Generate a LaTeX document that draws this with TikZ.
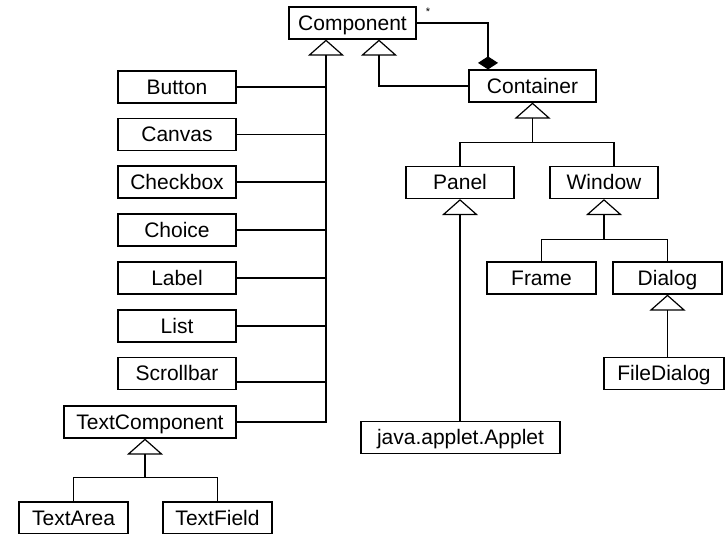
\documentclass[tikz,border=0pt]{standalone}
\usepackage{fontspec}
\setmainfont{Liberation Sans}
\usetikzlibrary{arrows.meta}

\begin{document}
\begin{tikzpicture}[x=1pt, y=-1pt,
    cls/.style={draw, line width=1.2pt, minimum height=32pt, inner sep=0pt,
        text height=15pt, text depth=1pt, font=\fontsize{21}{24}\selectfont},
    link/.style={line width=1.2pt},
    gen/.style={link, -{Triangle[open, length=16pt, width=36pt]}},
    owns/.style={link, -{Diamond[length=13pt, width=20pt]}}]
    \useasboundingbox (0,0) rectangle (725,533);

    % top of the hierarchy
    \node[cls, minimum width=127pt] (comp) at (352.5,23) {Component};
    \node[cls, minimum width=127pt] (cont) at (532.5,86) {Container};
    \node[font=\fontsize{11}{12}\selectfont] (mult) at (428,12) {*};

    % plain components
    \node[cls, minimum width=118pt] (button)   at (177,87)    {Button};
    \node[cls, minimum width=118pt] (canvas)   at (177,134.5) {Canvas};
    \node[cls, minimum width=118pt] (checkbox) at (177,182)   {Checkbox};
    \node[cls, minimum width=118pt] (choice)   at (177,230)   {Choice};
    \node[cls, minimum width=118pt] (label)    at (177,278)   {Label};
    \node[cls, minimum width=118pt] (list)     at (177,326)   {List};
    \node[cls, minimum width=118pt] (scroll)   at (177,373.5) {Scrollbar};
    \node[cls, minimum width=172pt] (textcomp) at (150,422)   {TextComponent};
    \node[cls, minimum width=109pt] (textarea) at (73.5,518)  {TextArea};
    \node[cls, minimum width=109pt] (textfield) at (217.5,518) {TextField};

    % containers
    \node[cls, minimum width=108pt] (panel)  at (460,182.5) {Panel};
    \node[cls, minimum width=108pt] (window) at (604,182.5) {Window};
    \node[cls, minimum width=109pt] (frame)  at (541.5,278) {Frame};
    \node[cls, minimum width=109pt] (dialog) at (667.5,278) {Dialog};
    \node[cls, minimum width=120pt] (filedlg) at (664,373.5) {FileDialog};
    \node[cls, minimum width=199pt] (applet) at (460.5,437.5) {java.applet.Applet};

    \coordinate (compL) at ([xshift=-26.5pt]comp.south);
    \coordinate (compR) at ([xshift=26.5pt]comp.south);
    \coordinate (contbar) at ([yshift=-40pt]cont.south);
    \coordinate (winbar) at ([yshift=-40pt]window.south);
    \coordinate (textup) at ([xshift=-5pt]textcomp.south);
    \coordinate (textbar) at ([yshift=-39pt]textup);

    % Component subclasses
    \draw[gen] (textcomp.east) -| (compL);
    \foreach \n in {button,canvas,checkbox,choice,label,list}
        \draw[link] (\n.east) -- (\n.east -| compL);
    \draw[link] ([yshift=-8.5pt]scroll.east) -- ([yshift=-8.5pt]scroll.east -| compL);
    \draw[gen] (cont.west) -| (compR);
    \draw[owns] (comp.east) -| ([xshift=-44.5pt]cont.north);

    % TextComponent subclasses
    \draw[gen] (textbar) -- (textup);
    \draw[link] (textarea.north) |- (textbar) -| (textfield.north);

    % Container subclasses
    \draw[gen] (contbar) -- (cont.south);
    \draw[link] (panel.north) |- (contbar) -| ([xshift=10pt]window.north);
    \draw[gen] (applet.north -| panel.south) -- (panel.south);
    \draw[gen] (winbar) -- (window.south);
    \draw[link] (frame.north) |- (winbar) -| (dialog.north);
    \draw[gen] (filedlg.north -| dialog.south) -- (dialog.south);
\end{tikzpicture}
\end{document}
